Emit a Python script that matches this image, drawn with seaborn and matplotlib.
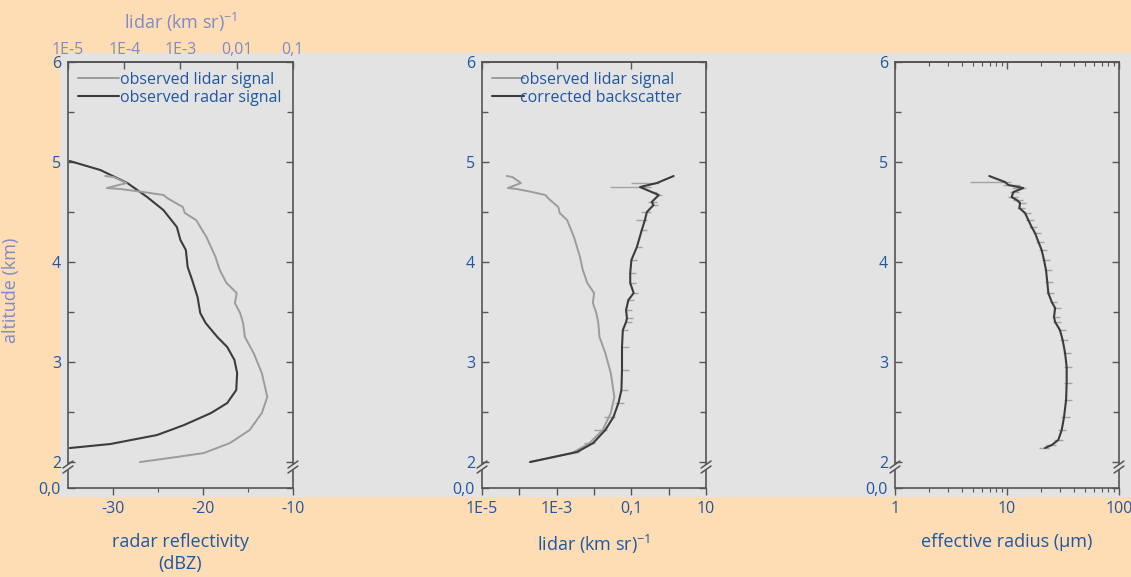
import numpy as np
import pandas as pd
import matplotlib
matplotlib.use("Agg")
import matplotlib.pyplot as plt
import matplotlib.ticker as mticker
from matplotlib.patches import Rectangle
import seaborn as sns

sns.set_theme(style="white")
plt.rcParams['font.family'] = ['Open Sans', 'DejaVu Sans']
plt.rcParams['mathtext.fontset'] = 'custom'
plt.rcParams['mathtext.rm'] = 'Open Sans'
plt.rcParams['axes.unicode_minus'] = False

# colours
PEACH = '#FEDDB4'
GREY = '#E3E3E3'
BLUE = '#1F57A4'
LBLUE = '#7D8BC9'
SPINE = '#555555'
DARK = '#3C3C3C'
LIGHT = '#9C9C9C'
ERR = '#A2A2A2'

# ---- data ----
# observed radar reflectivity (dBZ) vs altitude (km)
radar_alt = [5.01, 4.92, 4.79, 4.65, 4.52, 4.35, 4.22, 4.12, 3.95, 3.82, 3.65, 3.49,
             3.39, 3.25, 3.15, 3.02, 2.89, 2.72, 2.59, 2.49, 2.37, 2.27, 2.18, 2.14]
radar_dbz = [-34.8, -31.4, -28.4, -26.2, -24.4, -22.9, -22.5, -21.9, -21.7, -21.2, -20.6, -20.3,
             -19.7, -18.4, -17.3, -16.5, -16.2, -16.3, -17.3, -19.1, -22.1, -25.1, -30.3, -34.8]

# observed lidar signal (km sr)^-1 vs altitude (km)
lidar_alt = [4.86, 4.85, 4.79, 4.74, 4.73, 4.70, 4.67, 4.64, 4.55, 4.49, 4.42, 4.25, 4.05,
             3.92, 3.79, 3.69, 3.59, 3.49, 3.39, 3.25, 3.09, 2.89, 2.65, 2.49, 2.32, 2.19,
             2.09, 2.05, 2.00]
lidar_obs = [4.6e-5, 6.5e-5, 1.1e-4, 4.9e-5, 8.5e-5, 2.2e-4, 5.0e-4, 5.8e-4, 1.1e-3, 1.2e-3,
             1.9e-3, 2.9e-3, 4.2e-3, 5.0e-3, 6.6e-3, 1.0e-2, 9.3e-3, 1.15e-2, 1.3e-2, 1.4e-2,
             2.0e-2, 2.8e-2, 3.5e-2, 2.8e-2, 1.7e-2, 7.6e-3, 2.6e-3, 8.5e-4, 1.9e-4]

# corrected backscatter (km sr)^-1, error bars in decades
bsc_alt = [4.86, 4.79, 4.75, 4.70, 4.67, 4.60, 4.57, 4.50, 4.42, 4.32, 4.15, 4.02, 3.89,
           3.79, 3.69, 3.62, 3.52, 3.44, 3.40, 3.32, 3.15, 2.92, 2.72, 2.59, 2.45, 2.32,
           2.19, 2.10, 2.05, 2.00]
bsc_val = [1.35, 0.48, 0.17, 0.35, 0.54, 0.35, 0.39, 0.26, 0.23, 0.19, 0.14, 0.10, 0.093,
           0.093, 0.115, 0.083, 0.072, 0.076, 0.072, 0.059, 0.056, 0.056, 0.054, 0.045,
           0.033, 0.020, 0.0095, 0.0035, 8.1e-4, 1.95e-4]
bsc_err_lo = [0, 0.7, 0.8, 0.05, 0.05, 0.1, 0.05, 0.15, 0.25, 0.05, 0.03, 0.03, 0.03,
              0.03, 0.03, 0.03, 0.03, 0.03, 0.03, 0.03, 0.03, 0.03, 0.03, 0.1, 0.25, 0.3,
              0.25, 0.15, 0.05, 0]
bsc_err_hi = [0, 0.05, 0.3, 0.15, 0.1, 0.15, 0.12, 0.1, 0.05, 0.15, 0.15, 0.15, 0.15,
              0.15, 0.12, 0.15, 0.15, 0.15, 0.15, 0.15, 0.18, 0.18, 0.18, 0.15, 0.05, 0.05,
              0.05, 0.05, 0.05, 0]

# effective radius (um), error bars in decades
reff_alt = [4.86, 4.80, 4.77, 4.74, 4.70, 4.65, 4.62, 4.59, 4.54, 4.49, 4.42, 4.35, 4.29,
            4.20, 4.12, 4.02, 3.92, 3.80, 3.69, 3.60, 3.54, 3.45, 3.40, 3.32, 3.22, 3.09,
            2.95, 2.79, 2.62, 2.45, 2.32, 2.22, 2.17, 2.14]
reff_val = [6.95, 9.6, 10.3, 14.0, 11.4, 11.0, 12.2, 13.1, 12.9, 14.5, 15.5, 16.6, 17.8,
            19.1, 20.4, 21.4, 22.3, 22.9, 23.4, 25.1, 26.9, 26.3, 26.9, 29.7, 31.4, 33.0,
            34.1, 34.1, 33.7, 32.3, 30.8, 28.7, 25.1, 21.8]
reff_err_lo = [0, 0.31, 0.05, 0.1, 0.03, 0.03, 0.03, 0.02, 0.02, 0.02, 0.02, 0.02, 0.02,
               0.02, 0.02, 0.02, 0.02, 0.02, 0.02, 0.02, 0.02, 0.02, 0.02, 0.02, 0.02, 0.02,
               0.02, 0.02, 0.02, 0.03, 0.03, 0.04, 0.05, 0.05]
reff_err_hi = [0, 0.05, 0.1, 0.02, 0.05, 0.06, 0.06, 0.05, 0.05, 0.05, 0.05, 0.05, 0.05,
               0.05, 0.05, 0.05, 0.05, 0.05, 0.05, 0.05, 0.05, 0.05, 0.05, 0.05, 0.05, 0.05,
               0.05, 0.05, 0.05, 0.05, 0.04, 0.04, 0.04, 0.04]

ytick_pos = [1.74, 2, 3, 4, 5, 6]
ytick_lab = ['0,0', '2', '3', '4', '5', '6']

lidar_top_ticks = [1e-5, 1e-4, 1e-3, 1e-2, 1e-1]
lidar_top_labels = ['1E-5', '1E-4', '1E-3', '0,01', '0,1']
bsc_ticks = [1e-5, 1e-4, 1e-3, 1e-2, 1e-1, 1, 10]
bsc_labels = ['1E-5', '', '1E-3', '', '0,1', '', '10']
reff_ticks = [1, 10, 100]
reff_labels = ['1', '10', '100']

TICK_FS = 11.5
LAB_FS = 13


def log_err(vals, lo, hi):
    v = np.asarray(vals)
    return [v - v * 10 ** (-np.asarray(lo)), v * 10 ** np.asarray(hi) - v]


def style_y(ax):
    ax.set_ylim(1.74, 6)
    ax.yaxis.set_major_locator(mticker.FixedLocator(ytick_pos))
    ax.yaxis.set_major_formatter(mticker.FixedFormatter(ytick_lab))
    ax.yaxis.set_minor_locator(mticker.FixedLocator([2.5, 3.5, 4.5, 5.5]))
    ax.tick_params(axis='y', which='both', left=True, right=True, direction='in',
                   color=SPINE, labelcolor=BLUE, labelsize=TICK_FS, pad=5)
    ax.tick_params(axis='y', which='major', length=5, width=1)
    ax.tick_params(axis='y', which='minor', length=4, width=1)
    for s in ax.spines.values():
        s.set_color(SPINE)
        s.set_linewidth(1.2)
    ax.set_facecolor('none')
    # axis break marks
    tr = ax.get_yaxis_transform()
    for xs in (0, 1):
        ax.plot([xs, xs], [1.925, 1.975], transform=tr, color=GREY, lw=3,
                clip_on=False, zorder=5, solid_capstyle='butt')
        for yc in (1.925, 1.975):
            ax.plot([xs - 0.022, xs + 0.022], [yc - 0.035, yc + 0.035], transform=tr,
                    color=SPINE, lw=1.1, clip_on=False, zorder=6)


def style_bottom(ax):
    ax.tick_params(axis='x', which='both', bottom=True, top=False, direction='out',
                   color=SPINE, labelcolor=BLUE, labelsize=TICK_FS, pad=4)
    ax.tick_params(axis='x', which='major', length=5, width=1)
    ax.tick_params(axis='x', which='minor', length=3, width=0.8)


def top_twin(ax, xlim, log=True):
    t = ax.twiny()
    if log:
        t.set_xscale('log')
    t.set_xlim(*xlim)
    for k in ('left', 'right', 'bottom'):
        t.spines[k].set_visible(False)
    t.spines['top'].set_color(SPINE)
    t.spines['top'].set_linewidth(1.2)
    t.tick_params(axis='x', which='both', direction='in', color=SPINE,
                  labelcolor=LBLUE, labelsize=TICK_FS, pad=3)
    t.tick_params(axis='x', which='major', length=5, width=1)
    t.tick_params(axis='x', which='minor', length=3, width=0.8)
    return t


fig = plt.figure(figsize=(11.31, 5.77), dpi=100, facecolor=PEACH)
fig.patches.append(Rectangle((0.053, 0.1386), 0.947, 0.7695, transform=fig.transFigure,
                             facecolor=GREY, edgecolor='none', zorder=-10))

# ---------------- panel 1: radar + lidar ----------------
ax1 = fig.add_axes([0.0601, 0.1542, 0.1989, 0.7383])
sns.lineplot(x=radar_dbz, y=radar_alt, orient='y', sort=False, estimator=None,
             color=DARK, lw=1.5, ax=ax1)
style_y(ax1)
ax1.set_xlim(-35, -10)
ax1.xaxis.set_major_locator(mticker.FixedLocator([-30, -20, -10]))
ax1.xaxis.set_minor_locator(mticker.FixedLocator([-25, -15]))
style_bottom(ax1)
ax1.set_xlabel('radar reflectivity\n(dBZ)', color=BLUE, fontsize=LAB_FS, labelpad=12,
               linespacing=1.3)
ax1.set_ylabel('altitude (km)', color=LBLUE, fontsize=LAB_FS)
ax1.yaxis.set_label_coords(-0.215, 0.465)

ax1t = top_twin(ax1, (1e-5, 0.1))
sns.lineplot(x=lidar_obs, y=lidar_alt, orient='y', sort=False, estimator=None,
             color=LIGHT, lw=1.4, ax=ax1t)
ax1t.set_xscale('log')
ax1t.set_xlim(1e-5, 0.1)
ax1t.xaxis.set_major_locator(mticker.FixedLocator(lidar_top_ticks))
ax1t.xaxis.set_major_formatter(mticker.FixedFormatter(lidar_top_labels))
ax1t.xaxis.set_minor_locator(mticker.LogLocator(base=10, subs=np.arange(2, 10)))
ax1t.xaxis.set_minor_formatter(mticker.NullFormatter())
ax1t.set_xlabel('lidar (km sr)$^{-1}$', color=LBLUE, fontsize=LAB_FS, labelpad=9)
ax1t.set_ylim(1.74, 6)
h_lid = ax1t.get_lines()[-1]
h_rad = ax1.get_lines()[0]
ax1t.legend([h_lid, h_rad], ['observed lidar signal', 'observed radar signal'],
            loc='upper left', frameon=False, handlelength=2.6, handletextpad=0.05,
            borderaxespad=0.2, labelspacing=0.15, fontsize=TICK_FS, labelcolor=BLUE)

# ---------------- panel 2: backscatter ----------------
ax2 = fig.add_axes([0.4262, 0.1542, 0.1981, 0.7383])
ax2.errorbar(bsc_val, bsc_alt, xerr=log_err(bsc_val, bsc_err_lo, bsc_err_hi), fmt='none',
             ecolor=ERR, elinewidth=1.0, capsize=0, zorder=1)
sns.lineplot(x=lidar_obs, y=lidar_alt, orient='y', sort=False, estimator=None,
             color=LIGHT, lw=1.4, ax=ax2)
sns.lineplot(x=bsc_val, y=bsc_alt, orient='y', sort=False, estimator=None,
             color=DARK, lw=1.5, ax=ax2)
ax2.set_xscale('log')
ax2.set_xlim(1e-5, 10)
style_y(ax2)
ax2.xaxis.set_major_locator(mticker.FixedLocator(bsc_ticks))
ax2.xaxis.set_major_formatter(mticker.FixedFormatter(bsc_labels))
ax2.xaxis.set_minor_locator(mticker.LogLocator(base=10, subs=np.arange(2, 10)))
ax2.xaxis.set_minor_formatter(mticker.NullFormatter())
style_bottom(ax2)
ax2.set_xlabel('lidar (km sr)$^{-1}$', color=BLUE, fontsize=LAB_FS, labelpad=12)
lines2 = [l for l in ax2.get_lines() if l.get_color() in (LIGHT, DARK)]
ax2.legend([lines2[-2], lines2[-1]], ['observed lidar signal', 'corrected backscatter'],
           loc='upper left', frameon=False, handlelength=2.0, handletextpad=-0.25,
           borderaxespad=0.2, labelspacing=0.15, fontsize=TICK_FS, labelcolor=BLUE)
ax2t = top_twin(ax2, (1e-5, 10))
ax2t.xaxis.set_major_locator(mticker.LogLocator(base=10))
ax2t.xaxis.set_minor_locator(mticker.LogLocator(base=10, subs=np.arange(2, 10)))
ax2t.xaxis.set_major_formatter(mticker.NullFormatter())
ax2t.xaxis.set_minor_formatter(mticker.NullFormatter())

# ---------------- panel 3: effective radius ----------------
ax3 = fig.add_axes([0.7913, 0.1542, 0.1981, 0.7383])
ax3.errorbar(reff_val, reff_alt, xerr=log_err(reff_val, reff_err_lo, reff_err_hi),
             fmt='none', ecolor=ERR, elinewidth=1.0, capsize=0, zorder=1)
sns.lineplot(x=reff_val, y=reff_alt, orient='y', sort=False, estimator=None,
             color=DARK, lw=1.5, ax=ax3)
ax3.set_xscale('log')
ax3.set_xlim(1, 100)
style_y(ax3)
ax3.xaxis.set_major_locator(mticker.FixedLocator(reff_ticks))
ax3.xaxis.set_major_formatter(mticker.FixedFormatter(reff_labels))
ax3.xaxis.set_minor_locator(mticker.LogLocator(base=10, subs=np.arange(2, 10)))
ax3.xaxis.set_minor_formatter(mticker.NullFormatter())
style_bottom(ax3)
ax3.set_xlabel('effective radius (µm)', color=BLUE, fontsize=LAB_FS, labelpad=12)
ax3t = top_twin(ax3, (1, 100))
ax3t.xaxis.set_major_locator(mticker.LogLocator(base=10))
ax3t.xaxis.set_minor_locator(mticker.LogLocator(base=10, subs=np.arange(2, 10)))
ax3t.xaxis.set_major_formatter(mticker.NullFormatter())
ax3t.xaxis.set_minor_formatter(mticker.NullFormatter())

fig.savefig('out.png', dpi=100, facecolor=PEACH)
